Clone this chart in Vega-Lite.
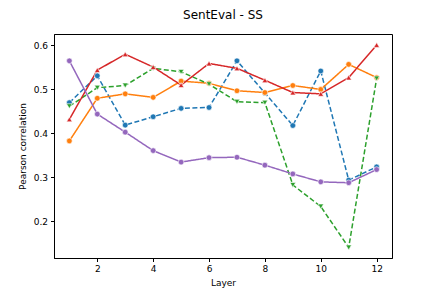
{
  "$schema": "https://vega.github.io/schema/vega-lite/v6.json",
  "autosize": "none",
  "width": 338,
  "height": 224,
  "padding": {"left": 54, "top": 34, "right": 44, "bottom": 33},
  "background": "white",
  "title": {"text": "SentEval - SS", "font": "DejaVu Sans", "fontSize": 12, "fontWeight": "normal", "color": "black", "offset": 12},
  "config": {
    "view": {"stroke": "black", "strokeWidth": 1},
    "axis": {"labelFont": "DejaVu Sans", "titleFont": "DejaVu Sans", "labelFontSize": 9, "titleFontSize": 9, "titleFontWeight": "normal", "labelColor": "black", "titleColor": "black", "domainColor": "black", "tickColor": "black", "tickSize": 3.5, "grid": false, "labelPadding": 3}
  },
  "data": {"values": [
    {"layer": 1, "series": "s1", "value": 0.469}, {"layer": 2, "series": "s1", "value": 0.530}, {"layer": 3, "series": "s1", "value": 0.418}, {"layer": 4, "series": "s1", "value": 0.437}, {"layer": 5, "series": "s1", "value": 0.456}, {"layer": 6, "series": "s1", "value": 0.458}, {"layer": 7, "series": "s1", "value": 0.564}, {"layer": 8, "series": "s1", "value": 0.491}, {"layer": 9, "series": "s1", "value": 0.417}, {"layer": 10, "series": "s1", "value": 0.541}, {"layer": 11, "series": "s1", "value": 0.293}, {"layer": 12, "series": "s1", "value": 0.323},
    {"layer": 1, "series": "s2", "value": 0.382}, {"layer": 2, "series": "s2", "value": 0.479}, {"layer": 3, "series": "s2", "value": 0.489}, {"layer": 4, "series": "s2", "value": 0.481}, {"layer": 5, "series": "s2", "value": 0.518}, {"layer": 6, "series": "s2", "value": 0.513}, {"layer": 7, "series": "s2", "value": 0.496}, {"layer": 8, "series": "s2", "value": 0.492}, {"layer": 9, "series": "s2", "value": 0.508}, {"layer": 10, "series": "s2", "value": 0.499}, {"layer": 11, "series": "s2", "value": 0.556}, {"layer": 12, "series": "s2", "value": 0.526},
    {"layer": 1, "series": "s3", "value": 0.461}, {"layer": 2, "series": "s3", "value": 0.503}, {"layer": 3, "series": "s3", "value": 0.508}, {"layer": 4, "series": "s3", "value": 0.547}, {"layer": 5, "series": "s3", "value": 0.539}, {"layer": 6, "series": "s3", "value": 0.511}, {"layer": 7, "series": "s3", "value": 0.471}, {"layer": 8, "series": "s3", "value": 0.469}, {"layer": 9, "series": "s3", "value": 0.282}, {"layer": 10, "series": "s3", "value": 0.233}, {"layer": 11, "series": "s3", "value": 0.140}, {"layer": 12, "series": "s3", "value": 0.524},
    {"layer": 1, "series": "s4", "value": 0.431}, {"layer": 2, "series": "s4", "value": 0.543}, {"layer": 3, "series": "s4", "value": 0.579}, {"layer": 4, "series": "s4", "value": 0.550}, {"layer": 5, "series": "s4", "value": 0.509}, {"layer": 6, "series": "s4", "value": 0.558}, {"layer": 7, "series": "s4", "value": 0.547}, {"layer": 8, "series": "s4", "value": 0.520}, {"layer": 9, "series": "s4", "value": 0.492}, {"layer": 10, "series": "s4", "value": 0.489}, {"layer": 11, "series": "s4", "value": 0.526}, {"layer": 12, "series": "s4", "value": 0.600},
    {"layer": 1, "series": "s5", "value": 0.564}, {"layer": 2, "series": "s5", "value": 0.443}, {"layer": 3, "series": "s5", "value": 0.402}, {"layer": 4, "series": "s5", "value": 0.360}, {"layer": 5, "series": "s5", "value": 0.334}, {"layer": 6, "series": "s5", "value": 0.344}, {"layer": 7, "series": "s5", "value": 0.345}, {"layer": 8, "series": "s5", "value": 0.327}, {"layer": 9, "series": "s5", "value": 0.307}, {"layer": 10, "series": "s5", "value": 0.289}, {"layer": 11, "series": "s5", "value": 0.287}, {"layer": 12, "series": "s5", "value": 0.317}
  ]},
  "encoding": {
    "x": {"field": "layer", "type": "quantitative", "title": "Layer", "scale": {"domain": [0.45, 12.55], "nice": false, "zero": false}, "axis": {"values": [2, 4, 6, 8, 10, 12], "titlePadding": 5}},
    "y": {"field": "value", "type": "quantitative", "title": "Pearson correlation", "scale": {"domain": [0.116, 0.625], "nice": false, "zero": false}, "axis": {"values": [0.2, 0.3, 0.4, 0.5, 0.6], "format": ".1f", "titlePadding": 6}},
    "color": {"field": "series", "type": "nominal", "legend": null, "scale": {"domain": ["s1", "s2", "s3", "s4", "s5"], "range": ["#1f77b4", "#ff7f0e", "#2ca02c", "#d62728", "#9467bd"]}}
  },
  "layer": [
    {"mark": {"type": "line", "strokeWidth": 1.5},
     "encoding": {"strokeDash": {"field": "series", "type": "nominal", "legend": null, "scale": {"domain": ["s1", "s2", "s3", "s4", "s5"], "range": [[5, 2.5], [1, 0], [5, 2.5], [1, 0], [1, 0]]}}}},
    {"mark": {"type": "point", "filled": true, "size": 32, "stroke": "white", "strokeWidth": 0.6, "opacity": 1},
     "encoding": {"shape": {"field": "series", "type": "nominal", "legend": null, "scale": {"domain": ["s1", "s2", "s3", "s4", "s5"], "range": ["circle", "circle", "triangle-down", "triangle-up", "circle"]}}}}
  ]
}
